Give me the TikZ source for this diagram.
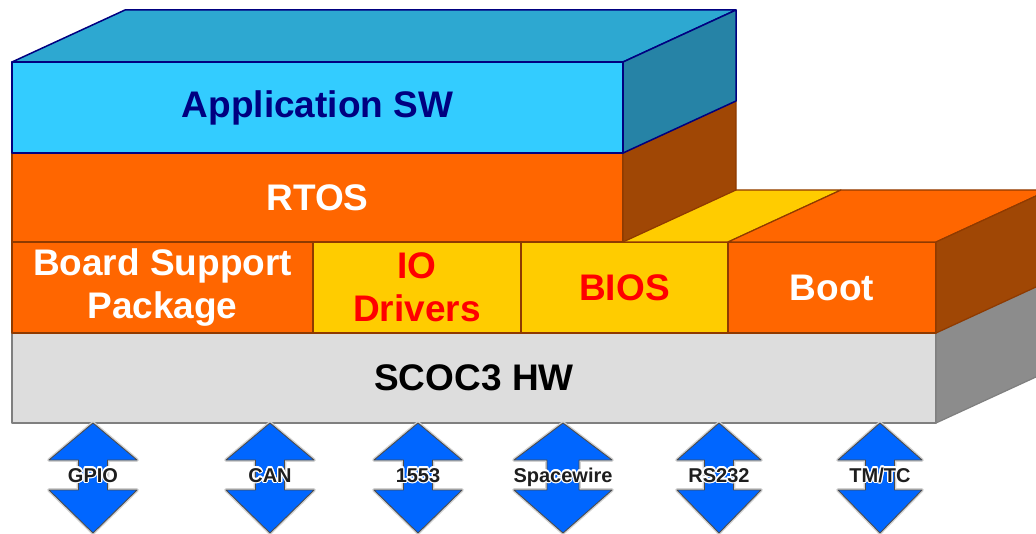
\documentclass[tikz,border=0pt]{standalone}
\usepackage{fontspec}
\setmainfont{Liberation Sans}
\usepackage[copies]{contour}
\contourlength{1.3pt}
\contournumber{12}
\usetikzlibrary{calc}

\definecolor{appfront}{HTML}{33CCFF}
\definecolor{apptop}{HTML}{2DA8D1}
\definecolor{appside}{HTML}{2683A6}
\definecolor{appedge}{HTML}{000080}
\definecolor{orangefront}{HTML}{FF6600}
\definecolor{orangeside}{HTML}{A04705}
\definecolor{yellowfront}{HTML}{FFCC00}
\definecolor{brownedge}{HTML}{8F3A00}
\definecolor{hwfront}{HTML}{DDDDDD}
\definecolor{hwside}{HTML}{8C8C8C}
\definecolor{hwedge}{HTML}{7F7F7F}
\definecolor{busblue}{HTML}{0066FF}
\definecolor{textred}{HTML}{FF0000}
\definecolor{labelink}{HTML}{1E1E1E}

% one block arrow (up/down) with its port label
% #1 name, #2 centre x, #3 head half width, #4 shaft half width, #5 label
\newcommand\busport[5]{%
  \draw[busarrow] (#2,423) -- (#2+#3,460) -- (#2+#4,460) -- (#2+#4,490)
    -- (#2+#3,490) -- (#2,533) -- (#2-#3,490) -- (#2-#4,490)
    -- (#2-#4,460) -- (#2-#3,460) -- cycle;
  \node[buslabel] (#1) at (#2,482) {\contour{white}{#5}};
}

\begin{document}
\begin{tikzpicture}[x=1pt,y=-1pt,line join=round,
  face/.style={inner sep=0pt,outer sep=0pt,anchor=north west,align=center,
    font=\fontsize{37}{43}\selectfont\bfseries,line width=1.2pt},
  appbox/.style={face,fill=appfront,draw=appedge,text=appedge,line width=1.5pt},
  orangebox/.style={face,fill=orangefront,draw=brownedge,text=white},
  yellowbox/.style={face,fill=yellowfront,draw=brownedge,text=textred},
  hwbox/.style={face,fill=hwfront,draw=hwedge,text=black},
  appskin/.style={draw=appedge,line width=1.5pt},
  brownskin/.style={draw=brownedge,line width=1.2pt},
  hwskin/.style={draw=hwedge,line width=1.2pt},
  busarrow/.style={fill=busblue,draw=black!70,line width=0.9pt,
    preaction={draw=black!18,line width=3.6pt}},
  buslabel/.style={inner sep=0pt,anchor=base,text=labelink,
    font=\fontsize{20}{24}\selectfont\bfseries}]

\clip (0,0) rectangle (1036,534);
\fill[white] (0,0) rectangle (1036,534);

% hardware layer
\node[hwbox,minimum width=924pt,minimum height=90pt] (hw) at (12,333) {SCOC3 HW};
\draw[hwskin,fill=hwside] (hw.north east) -- ++(113,-52) -- ++(0,90) -- (hw.south east) -- cycle;

% low-level software layer
\node[orangebox,minimum width=301pt,minimum height=91pt] (bsp) at (12,242) {Board Support\\Package};
\node[yellowbox,minimum width=208pt,minimum height=91pt] (io) at (313,242) {IO\\Drivers};
\node[yellowbox,minimum width=207pt,minimum height=91pt] (bios) at (521,242) {BIOS};
\node[orangebox,minimum width=208pt,minimum height=91pt] (boot) at (728,242) {Boot};
\draw[brownskin,fill=yellowfront] (bios.north west) -- ++(113,-52) -- ($(bios.north east)+(113,-52)$) -- (bios.north east) -- cycle;
\draw[brownskin,fill=orangefront] (boot.north west) -- ++(113,-52) -- ($(boot.north east)+(113,-52)$) -- (boot.north east) -- cycle;
\draw[brownskin,fill=orangeside] (boot.north east) -- ++(113,-52) -- ++(0,91) -- (boot.south east) -- cycle;

% operating system layer
\node[orangebox,minimum width=611pt,minimum height=89pt] (rtos) at (12,153) {RTOS};
\draw[brownskin,fill=orangeside] (rtos.north east) -- ++(113,-52) -- ++(0,89) -- (rtos.south east) -- cycle;

% application layer
\node[appbox,minimum width=611pt,minimum height=91pt] (app) at (12,62) {Application SW};
\draw[appskin,fill=apptop] (app.north west) -- ++(113,-52) -- ($(app.north east)+(113,-52)$) -- (app.north east) -- cycle;
\draw[appskin,fill=appside] (app.north east) -- ++(113,-52) -- ++(0,91) -- (app.south east) -- cycle;

% external interfaces
\busport{gpio}{93}{44}{14.5}{GPIO}
\busport{can}{270}{44}{14.5}{CAN}
\busport{milbus}{418}{44}{14.5}{1553}
\busport{spw}{563}{49}{16}{Spacewire}
\busport{uart}{719}{42}{14.5}{RS232}
\busport{tmtc}{880}{42}{14.5}{TM/TC}
\end{tikzpicture}
\end{document}
